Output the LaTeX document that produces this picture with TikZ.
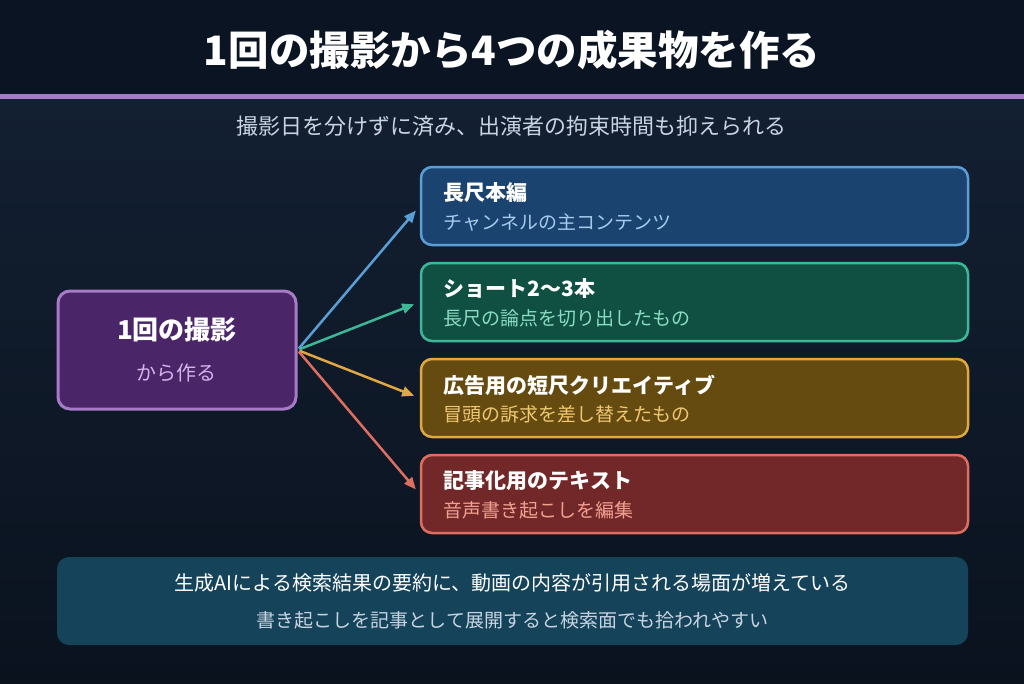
\documentclass[tikz,border=0pt]{standalone}
\usepackage{fontspec}
\setmainfont{Noto Sans CJK JP}
\usetikzlibrary{arrows.meta,positioning,calc}
\definecolor{BandDark}{HTML}{0B1422}
\definecolor{BodyTop}{HTML}{132032}
\definecolor{BodyBottom}{HTML}{0A121E}
\definecolor{PurpleLine}{HTML}{A87BC8}
\definecolor{PurpleFill}{HTML}{4A2567}
\definecolor{PurpleSoft}{HTML}{D4B4EC}
\definecolor{BlueLine}{HTML}{5A9ED8}
\definecolor{BlueFill}{HTML}{1A436F}
\definecolor{BlueSoft}{HTML}{A6CBEE}
\definecolor{GreenLine}{HTML}{3DB797}
\definecolor{GreenFill}{HTML}{0F5043}
\definecolor{GreenSoft}{HTML}{8ADCC2}
\definecolor{GoldLine}{HTML}{DFA843}
\definecolor{GoldFill}{HTML}{654B10}
\definecolor{GoldSoft}{HTML}{F0C874}
\definecolor{RedLine}{HTML}{DE6E60}
\definecolor{RedFill}{HTML}{722828}
\definecolor{RedSoft}{HTML}{F2A092}
\definecolor{NoteFill}{HTML}{15435A}
\definecolor{TextGray}{HTML}{C8D4E2}
\tikzset{
  sourcebox/.style={draw=PurpleLine,fill=PurpleFill,rounded corners=12pt,line width=3pt,
    minimum width=238pt,minimum height=118pt},
  outbox/.style={rounded corners=11pt,line width=2.5pt,
    minimum width=547pt,minimum height=78pt},
  itemhead/.style={anchor=west,inner sep=0pt,text=white,font=\bfseries\fontsize{21}{25}\selectfont},
  itemsub/.style={anchor=west,inner sep=0pt,font=\fontsize{19}{23}\selectfont},
  fan/.style={-{Triangle[length=12pt,width=10pt]},line width=2.5pt,shorten >=6pt,shorten <=2pt},
  notebox/.style={fill=NoteFill,rounded corners=12pt,minimum width=911pt,minimum height=88pt}
}

\begin{document}
\begin{tikzpicture}[x=1pt,y=-1pt,node distance=15.5pt]
  % background and header band
  \useasboundingbox (0,0) rectangle (1024,683);
  \shade[top color=BodyTop,bottom color=BodyBottom] (0,99) rectangle (1024,683);
  \fill[BandDark] (0,0) rectangle (1024,94);
  \fill[PurpleLine] (0,94) rectangle (1024,99);
  \node[text=white,font=\bfseries\fontsize{40.5}{46}\selectfont] (title) at (512,50) {1回の撮影から4つの成果物を作る};
  \node[text=TextGray,font=\fontsize{22}{26}\selectfont] (lead) at (511,126) {撮影日を分けずに済み、出演者の拘束時間も抑えられる};

  % source
  \node[sourcebox] (shoot) at (177,350) {};
  \node[text=white,font=\bfseries\fontsize{26}{30}\selectfont] (shoothead) at (177,330) {1回の撮影};
  \node[text=PurpleSoft,font=\fontsize{20}{24}\selectfont] (shootsub) at (176,373) {から作る};

  % outputs
  \node[outbox,draw=BlueLine,fill=BlueFill] (long) at (694.5,206) {};
  \node[itemhead] (longhead) at ([xshift=24pt,yshift=13pt]long.west) {長尺本編};
  \node[itemsub,text=BlueSoft] (longsub) at ([xshift=24pt,yshift=-16pt]long.west) {チャンネルの主コンテンツ};

  \node[outbox,draw=GreenLine,fill=GreenFill,below=of long] (short) {};
  \node[itemhead] (shorthead) at ([xshift=24pt,yshift=13pt]short.west) {ショート2〜3本};
  \node[itemsub,text=GreenSoft] (shortsub) at ([xshift=24pt,yshift=-16pt]short.west) {長尺の論点を切り出したもの};

  \node[outbox,draw=GoldLine,fill=GoldFill,below=of short] (ad) {};
  \node[itemhead] (adhead) at ([xshift=24pt,yshift=13pt]ad.west) {広告用の短尺クリエイティブ};
  \node[itemsub,text=GoldSoft] (adsub) at ([xshift=24pt,yshift=-16pt]ad.west) {冒頭の訴求を差し替えたもの};

  \node[outbox,draw=RedLine,fill=RedFill,below=of ad] (text) {};
  \node[itemhead] (texthead) at ([xshift=24pt,yshift=13pt]text.west) {記事化用のテキスト};
  \node[itemsub,text=RedSoft] (textsub) at ([xshift=24pt,yshift=-16pt]text.west) {音声書き起こしを編集};

  \draw[fan,BlueLine] (shoot.east) -- (long.west);
  \draw[fan,GreenLine] (shoot.east) -- (short.west);
  \draw[fan,GoldLine] (shoot.east) -- (ad.west);
  \draw[fan,RedLine] (shoot.east) -- (text.west);

  % note
  \node[notebox] (note) at (512.5,601) {};
  \node[text=white,font=\fontsize{20}{24}\selectfont] (notemain) at (512.5,583) {生成AIによる検索結果の要約に、動画の内容が引用される場面が増えている};
  \node[text=TextGray,font=\fontsize{19}{23}\selectfont] (notesub) at (512.5,620) {書き起こしを記事として展開すると検索面でも拾われやすい};
\end{tikzpicture}
\end{document}
